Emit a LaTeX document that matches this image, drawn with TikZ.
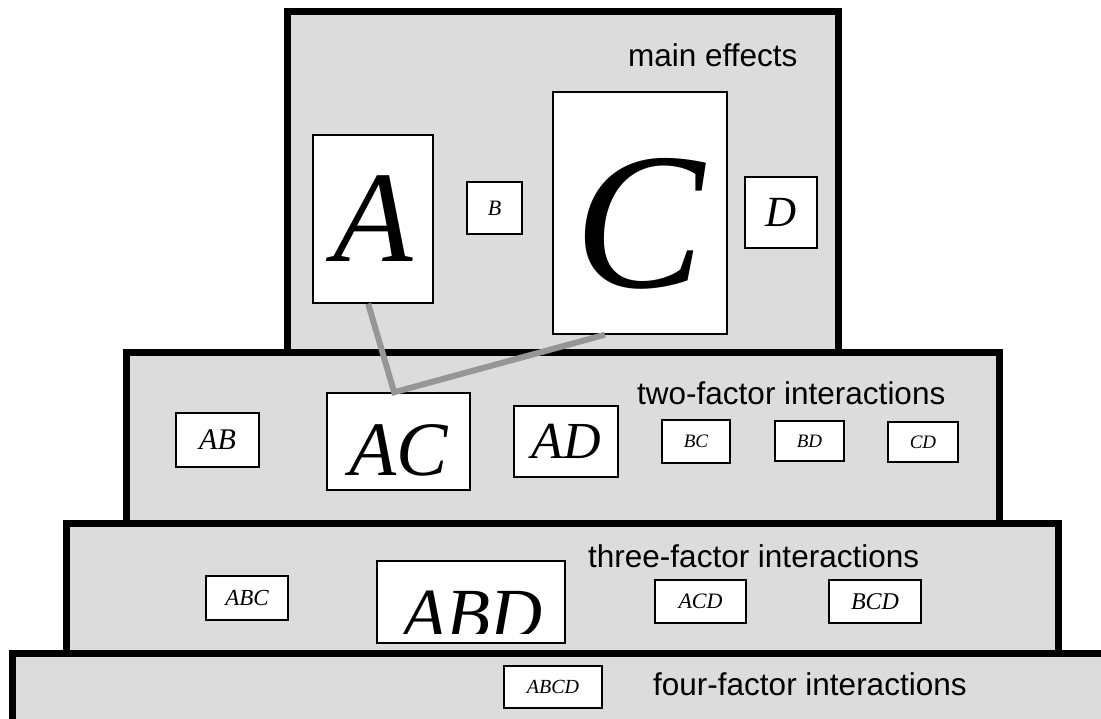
\documentclass[tikz,border=0pt]{standalone}
\usepackage{fontspec}
\setmainfont{Liberation Serif}
\newfontfamily\tierfont{Liberation Sans}
\usepackage{tikz}
\usetikzlibrary{calc}
\definecolor{pyr_fill}{RGB}{220, 220, 220}
\definecolor{pyr_link}{RGB}{150, 150, 150}
\newcommand{\eff}[2]{{\fontsize{#1}{#1}\selectfont\itshape #2}}

\begin{document}
\begin{tikzpicture}[x=1pt, y=-1pt,
    tier/.style={draw=black, fill=pyr_fill, line width=7pt},
    effbox/.style={draw=black, fill=white, line width=1.5pt, inner sep=0pt},
    tierlabel/.style={anchor=base west, inner sep=0pt,
      font=\tierfont\fontsize{31.5}{34}\selectfont},
    link/.style={draw=pyr_link, line width=6pt}]
  \useasboundingbox (0,0) rectangle (1101,719);

  % Niveau 1 : effets principaux
  \draw[tier] (287,12) rectangle (838,353);
  \node[tierlabel] (lmain) at (628,67) {main effects};
  \foreach \n/\cx/\cy/\w/\h/\s in {A/373/219/120/168/130, B/494.5/208/55/52/22,
      D/781/212.5/72/71/43} {
    \node[effbox, minimum width=\w, minimum height=\h] (\n) at (\cx,\cy) {\eff{\s}{\n}};
  }
  \node[effbox, minimum width=174, minimum height=242, text height=150pt, text depth=0pt]
    (C) at (640,213) {\eff{195}{C}};

  % Niveau 2 : interactions doubles
  \draw[tier] (126,353) rectangle (999,523);
  \node[tierlabel] (ltwo) at (637,405) {two-factor interactions};
  \foreach \n/\cx/\cy/\w/\h/\s in {AB/217.5/440/83/54/30,
      AD/566/441.5/104/71/52, BC/696/441.5/68/43/19,
      BD/809.5/441/69/40/19, CD/923/442/70/40/19} {
    \node[effbox, minimum width=\w, minimum height=\h] (\n) at (\cx,\cy) {\eff{\s}{\n}};
  }
  \node[effbox, minimum width=143, minimum height=97, text height=67pt, text depth=0pt]
    (AC) at (398.5,441.5) {\eff{77}{AC}};

  % Liens A -- AC -- C
  \coordinate (join) at ($(AC.north west)!0.47!(AC.north east)$);
  \draw[link] ($(A.south west)!0.46!(A.south east)$) -- (join)
    -- ($(C.south west)!0.3!(C.south east)$);

  % Niveau 3 : interactions triples
  \draw[tier] (66,523) rectangle (1058,653);
  \node[tierlabel] (lthree) at (588,567) {three-factor interactions};
  \foreach \n/\cx/\cy/\w/\h/\s in {ABC/247/598/82/44/23,
      ACD/700.5/601.5/91/43/22, BCD/875/601.5/92/43/24} {
    \node[effbox, minimum width=\w, minimum height=\h] (\n) at (\cx,\cy) {\eff{\s}{\n}};
  }
  \node[effbox, minimum width=188, minimum height=82] (ABD) at (471,602) {};
  \begin{scope}
    \clip ($(ABD.north west)+(1,1)$) rectangle ($(ABD.south east)+(-1,-10)$);
    \node[anchor=base, inner sep=0pt] (ABDtext) at (472,638) {\eff{72}{ABD}};
  \end{scope}

  % Niveau 4 : interaction quadruple
  \draw[tier] (12,653) rectangle (1130,722);
  \node[tierlabel] (lfour) at (653,695) {four-factor interactions};
  \node[effbox, minimum width=98, minimum height=42] (ABCD) at (553,687) {\eff{20}{ABCD}};
\end{tikzpicture}
\end{document}
